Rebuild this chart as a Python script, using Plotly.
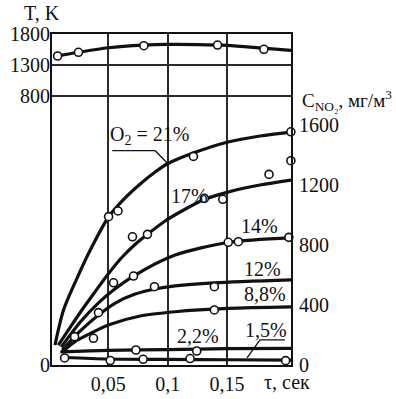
import plotly.graph_objects as go

# ---------------- data ----------------
# Temperature curve (upper panel, left axis T, K)
tau_T_line = [0.007, 0.025, 0.05, 0.08, 0.10, 0.125, 0.15, 0.18, 0.204]
T_line = [1445, 1505, 1578, 1620, 1632, 1630, 1617, 1572, 1535]
tau_T_pts = [0.0074, 0.025, 0.080, 0.142, 0.181]
T_pts = [1445, 1505, 1611, 1622, 1553]

# NO2 concentration curves (right axis, mg/m3), by O2 content
tau_21 = [0.0052, 0.0124, 0.0223, 0.0349, 0.0503, 0.0634, 0.0769, 0.0895, 0.0996, 0.1214, 0.1508, 0.1777, 0.2038]
c_21 = [133, 367, 553, 767, 987, 1107, 1207, 1287, 1340, 1413, 1487, 1527, 1553]
tau_21_pts = [0.0503, 0.0582, 0.1217, 0.2037, 0.2037]
c_21_pts = [989, 1027, 1391, 1555, 1362]

tau_17 = [0.008, 0.0181, 0.0279, 0.0391, 0.0503, 0.0618, 0.0735, 0.0828, 0.0979, 0.1105, 0.1307, 0.1508, 0.1777, 0.2038]
c_17 = [133, 253, 367, 490, 610, 720, 810, 870, 960, 1020, 1103, 1153, 1200, 1233]
tau_17_pts = [0.0704, 0.083, 0.1309, 0.1464, 0.1853]
c_17_pts = [855, 871, 1111, 1105, 1271]

tau_14 = [0.0105, 0.0265, 0.0416, 0.0545, 0.0713, 0.1063, 0.151, 0.2038]
c_14 = [120, 287, 413, 500, 593, 733, 817, 847]
tau_14_pts = [0.0545, 0.0713, 0.151, 0.1595, 0.202]
c_14_pts = [548, 593, 818, 822, 851]

tau_12 = [0.0113, 0.0265, 0.0418, 0.0559, 0.0727, 0.0895, 0.1063, 0.139, 0.2038]
c_12 = [100, 227, 333, 413, 473, 507, 527, 547, 567]
tau_12_pts = [0.0418, 0.0889, 0.1393]
c_12_pts = [349, 522, 522]

tau_88 = [0.0113, 0.0214, 0.0374, 0.05, 0.0769, 0.1063, 0.151, 0.2038]
c_88 = [87, 153, 220, 267, 327, 355, 377, 387]
tau_88_pts = [0.0217, 0.0376, 0.1393]
c_88_pts = [189, 178, 367]

tau_22 = [0.0097, 0.05, 0.10, 0.15, 0.2038]
c_22 = [87, 97, 103, 109, 111]
tau_22_pts = [0.0733, 0.1245]
c_22_pts = [100, 93]

tau_15 = [0.0133, 0.05, 0.10, 0.15, 0.2038]
c_15 = [50, 40, 37, 35, 33]
tau_15_pts = [0.0133, 0.0517, 0.0794, 0.1189, 0.1993]
c_15_pts = [47, 30, 38, 43, 29]

x_ticks = [0.05, 0.10, 0.15]
x_ticktext = ["0,05", "0,1", "0,15"]
c_ticks = [0, 400, 800, 1200, 1600]
c_grid = [400, 800, 1200]
T_ticks = [800, 1300, 1800]

# ---------------- styling / layout ----------------
FONT = "Liberation Serif"
FS = 20
INK = "#111111"
GRID = "#2a2a2a"

X_RANGE = [0.0027, 0.2038]
C_RANGE = [0, 2207]
T_RANGE = [-3539, 1800]

fig = go.Figure()

curves = [
    (tau_21, c_21, tau_21_pts, c_21_pts),
    (tau_17, c_17, tau_17_pts, c_17_pts),
    (tau_14, c_14, tau_14_pts, c_14_pts),
    (tau_12, c_12, tau_12_pts, c_12_pts),
    (tau_88, c_88, tau_88_pts, c_88_pts),
    (tau_22, c_22, tau_22_pts, c_22_pts),
    (tau_15, c_15, tau_15_pts, c_15_pts),
]

marker_style = dict(symbol="circle", size=8, color="white", line=dict(color=INK, width=1.6))

for tl, cl, tp, cp in curves:
    fig.add_trace(go.Scatter(x=tl, y=cl, mode="lines", yaxis="y",
                             line=dict(color=INK, width=3.2, shape="spline", smoothing=0.8),
                             hoverinfo="skip", cliponaxis=False))
for tl, cl, tp, cp in curves:
    fig.add_trace(go.Scatter(x=tp, y=cp, mode="markers", yaxis="y",
                             marker=marker_style, cliponaxis=False))

fig.add_trace(go.Scatter(x=tau_T_line, y=T_line, mode="lines", yaxis="y2",
                         line=dict(color=INK, width=3.2, shape="spline", smoothing=0.8),
                         cliponaxis=False))
fig.add_trace(go.Scatter(x=tau_T_pts, y=T_pts, mode="markers", yaxis="y2",
                         marker=marker_style, cliponaxis=False))

tickfont = dict(family=FONT, size=FS, color=INK)

fig.update_layout(
    width=396, height=399,
    margin=dict(l=52, r=105, t=34, b=34, autoexpand=False),
    paper_bgcolor="white", plot_bgcolor="white",
    showlegend=False,
    font=dict(family=FONT, size=FS, color=INK),
    xaxis=dict(range=X_RANGE, tickvals=x_ticks, ticktext=x_ticktext,
               showgrid=True, gridcolor=GRID, gridwidth=1.5,
               showline=True, linecolor=INK, linewidth=2, mirror=True,
               ticks="", zeroline=False, tickfont=tickfont, automargin=False),
    yaxis=dict(range=C_RANGE, side="right", tickvals=c_ticks,
               ticktext=[str(v) for v in c_ticks],
               showgrid=False, showline=True, linecolor=INK, linewidth=2,
               mirror=True, ticks="", zeroline=False, tickfont=tickfont,
               ticklabelstandoff=2, automargin=False),
    yaxis2=dict(range=T_RANGE, overlaying="y", side="left",
                tickvals=[T_RANGE[0]] + T_ticks,
                ticktext=["0"] + [str(v) for v in T_ticks],
                showgrid=True, gridcolor=GRID, gridwidth=1.5,
                showline=False, ticks="", zeroline=False, tickfont=tickfont,
                ticklabelstandoff=1, automargin=False),
    yaxis3=dict(range=C_RANGE, overlaying="y", side="right",
                tickvals=c_grid, showticklabels=False,
                showgrid=True, gridcolor=GRID, gridwidth=1.5,
                showline=False, ticks="", zeroline=False, automargin=False),
)

# axis titles
fig.add_annotation(text="T, K", xref="paper", yref="paper", x=-0.041, y=1.063,
                   showarrow=False, xanchor="center", yanchor="middle",
                   font=dict(family=FONT, size=FS, color=INK))
fig.add_annotation(text="C<sub>NO₂</sub>, мг/м<sup>3</sup>", xref="paper", yref="paper",
                   x=1.0366, y=0.80, showarrow=False, xanchor="left", yanchor="middle",
                   font=dict(family=FONT, size=19, color=INK))
fig.add_annotation(text="τ, сек", xref="paper", yref="paper", x=0.985, y=-0.05,
                   showarrow=False, xanchor="center", yanchor="middle",
                   font=dict(family=FONT, size=FS, color=INK))

# curve labels
labels = [
    ("O<sub>2</sub> = 21%", 0.0845, 1533),
    ("17%", 0.118, 1127),
    ("14%", 0.1777, 927),
    ("12%", 0.180, 640),
    ("8,8%", 0.182, 473),
    ("2,2%", 0.1256, 193),
    ("1,5%", 0.1828, 233),
]
for txt, lx, ly in labels:
    fig.add_annotation(text=txt, x=lx, y=ly, xref="x", yref="y", showarrow=False,
                       xanchor="center", yanchor="middle", bgcolor="rgba(0,0,0,0)",
                       font=dict(family=FONT, size=FS, color=INK))

# leader lines
fig.add_shape(type="path", xref="x", yref="y",
              path="M 0.0534,1429 L 0.0895,1429 L 0.0996,1347",
              line=dict(color=INK, width=1.3))
fig.add_shape(type="path", xref="x", yref="y",
              path="M 0.1987,167 L 0.1777,167 L 0.1668,47",
              line=dict(color=INK, width=1.3))

fig.write_html("out.html",
               config={"displayModeBar": False},
               post_script="document.body.style.margin='0';document.body.style.overflow='hidden';")
